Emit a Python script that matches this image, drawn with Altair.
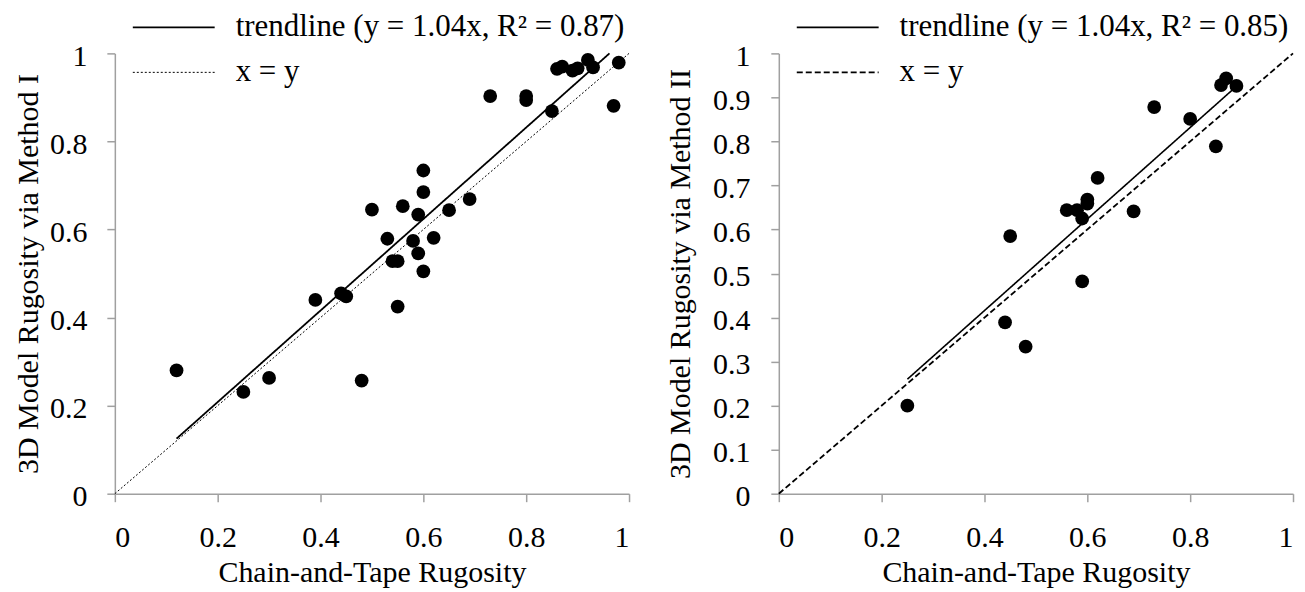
import altair as alt
import pandas as pd

# ---------------- data ----------------
# Left panel: 3D Model Rugosity via Method I vs Chain-and-Tape Rugosity
m1_x = [0.12, 0.25, 0.30, 0.39, 0.44, 0.45, 0.48, 0.55, 0.50, 0.56, 0.60, 0.60,
        0.59, 0.65, 0.69, 0.53, 0.58, 0.62, 0.59, 0.54, 0.55, 0.60, 0.73, 0.80,
        0.80, 0.85, 0.97, 0.98, 0.86, 0.87, 0.89, 0.90, 0.92, 0.93]
m1_y = [0.280, 0.231, 0.263, 0.440, 0.455, 0.448, 0.257, 0.425, 0.645, 0.653, 0.734, 0.685,
        0.634, 0.644, 0.669, 0.579, 0.574, 0.581, 0.546, 0.528, 0.528, 0.505, 0.903, 0.903,
        0.894, 0.869, 0.881, 0.979, 0.965, 0.970, 0.961, 0.966, 0.985, 0.968]

# Right panel: 3D Model Rugosity via Method II vs Chain-and-Tape Rugosity
m2_x = [0.25, 0.44, 0.48, 0.59, 0.45, 0.56, 0.58, 0.59, 0.60, 0.60, 0.62, 0.69,
        0.73, 0.80, 0.85, 0.86, 0.87, 0.89]
m2_y = [0.200, 0.389, 0.334, 0.482, 0.585, 0.644, 0.644, 0.625, 0.668, 0.659, 0.717, 0.641,
        0.878, 0.851, 0.789, 0.928, 0.943, 0.926]

# line endpoints
trend1_x = [0.12, 0.962]
trend1_y = [0.125, 1.0]
trend2_x = [0.25, 0.885]
trend2_y = [0.26, 0.92]
ident_x = [0.0, 1.0]
ident_y = [0.0, 1.0]

trend1_label = "trendline (y = 1.04x, R\u00b2 = 0.87)"
trend2_label = "trendline (y = 1.04x, R\u00b2 = 0.85)"
ident_label = "x = y"

x_title = "Chain-and-Tape Rugosity"
y1_title = "3D Model Rugosity via Method I"
y2_title = "3D Model Rugosity via Method II"

x_ticks = [0, 0.2, 0.4, 0.6, 0.8, 1]
y1_ticks = [0, 0.2, 0.4, 0.6, 0.8, 1]
y2_ticks = [0, 0.1, 0.2, 0.3, 0.4, 0.5, 0.6, 0.7, 0.8, 0.9, 1]

FONT = "Liberation Serif"


def panel(px, py, tx, ty, tlabel, ytitle, yticks, dash_range, width_range,
          y_label_pad, y_title_pad):
    pts = pd.DataFrame({"x": px, "y": py})
    lines = pd.DataFrame({
        "x": tx + ident_x,
        "y": ty + ident_y,
        "series": [tlabel] * len(tx) + [ident_label] * len(ident_x),
    })
    xenc = alt.X("x:Q", scale=alt.Scale(domain=[0, 1], nice=False),
                 axis=alt.Axis(values=x_ticks, format="~g", title=x_title,
                               labelPadding=21, titlePadding=5))
    yenc = alt.Y("y:Q", scale=alt.Scale(domain=[0, 1], nice=False),
                 axis=alt.Axis(values=yticks, format="~g", title=ytitle,
                               labelPadding=y_label_pad, titlePadding=y_title_pad,
                               labelOffset=3))
    dom = [tlabel, ident_label]
    line = alt.Chart(lines).mark_line(color="black").encode(
        x=xenc, y=yenc,
        strokeDash=alt.StrokeDash(
            "series:N",
            scale=alt.Scale(domain=dom, range=dash_range),
            legend=alt.Legend(
                orient="none", legendX=17, legendY=-44, title=None,
                symbolType="stroke", symbolSize=6724,
                symbolStrokeColor="black", symbolStrokeWidth=1.5,
                labelFont=FONT, labelFontSize=31, labelColor="black",
                labelLimit=800, labelOffset=20, clipHeight=36, rowPadding=9,
                padding=0,
            ),
        ),
        strokeWidth=alt.StrokeWidth("series:N",
                                    scale=alt.Scale(domain=dom, range=width_range),
                                    legend=None),
    )
    dots = alt.Chart(pts).mark_circle(size=190, color="black", opacity=1).encode(
        x=xenc, y=yenc)
    return alt.layer(line, dots).properties(width=515, height=441)


left = panel(m1_x, m1_y, trend1_x, trend1_y, trend1_label, y1_title, y1_ticks,
             [[1, 0], [2, 2]], [1.8, 1.0], 20, 6)
right = panel(m2_x, m2_y, trend2_x, trend2_y, trend2_label, y2_title, y2_ticks,
              [[1, 0], [6, 3]], [1.6, 1.8], 21, 17)

chart = alt.hconcat(left, right, spacing=34).resolve_scale(
    strokeDash="independent", strokeWidth="independent"
).resolve_legend(strokeDash="independent").properties(
    padding={"left": 5, "top": 1, "right": 0, "bottom": 0},
    background="white",
).configure_view(stroke=None).configure_axis(
    grid=False,
    domainColor="#a0a0a0", domainWidth=1.5,
    tickColor="#a0a0a0", tickWidth=1.5, tickSize=8,
    labelFont=FONT, labelFontSize=30, labelColor="black",
    titleFont=FONT, titleFontSize=30, titleFontWeight="normal", titleColor="black",
)

chart.save("out.html", embed_options={"renderer": "svg", "actions": False})
